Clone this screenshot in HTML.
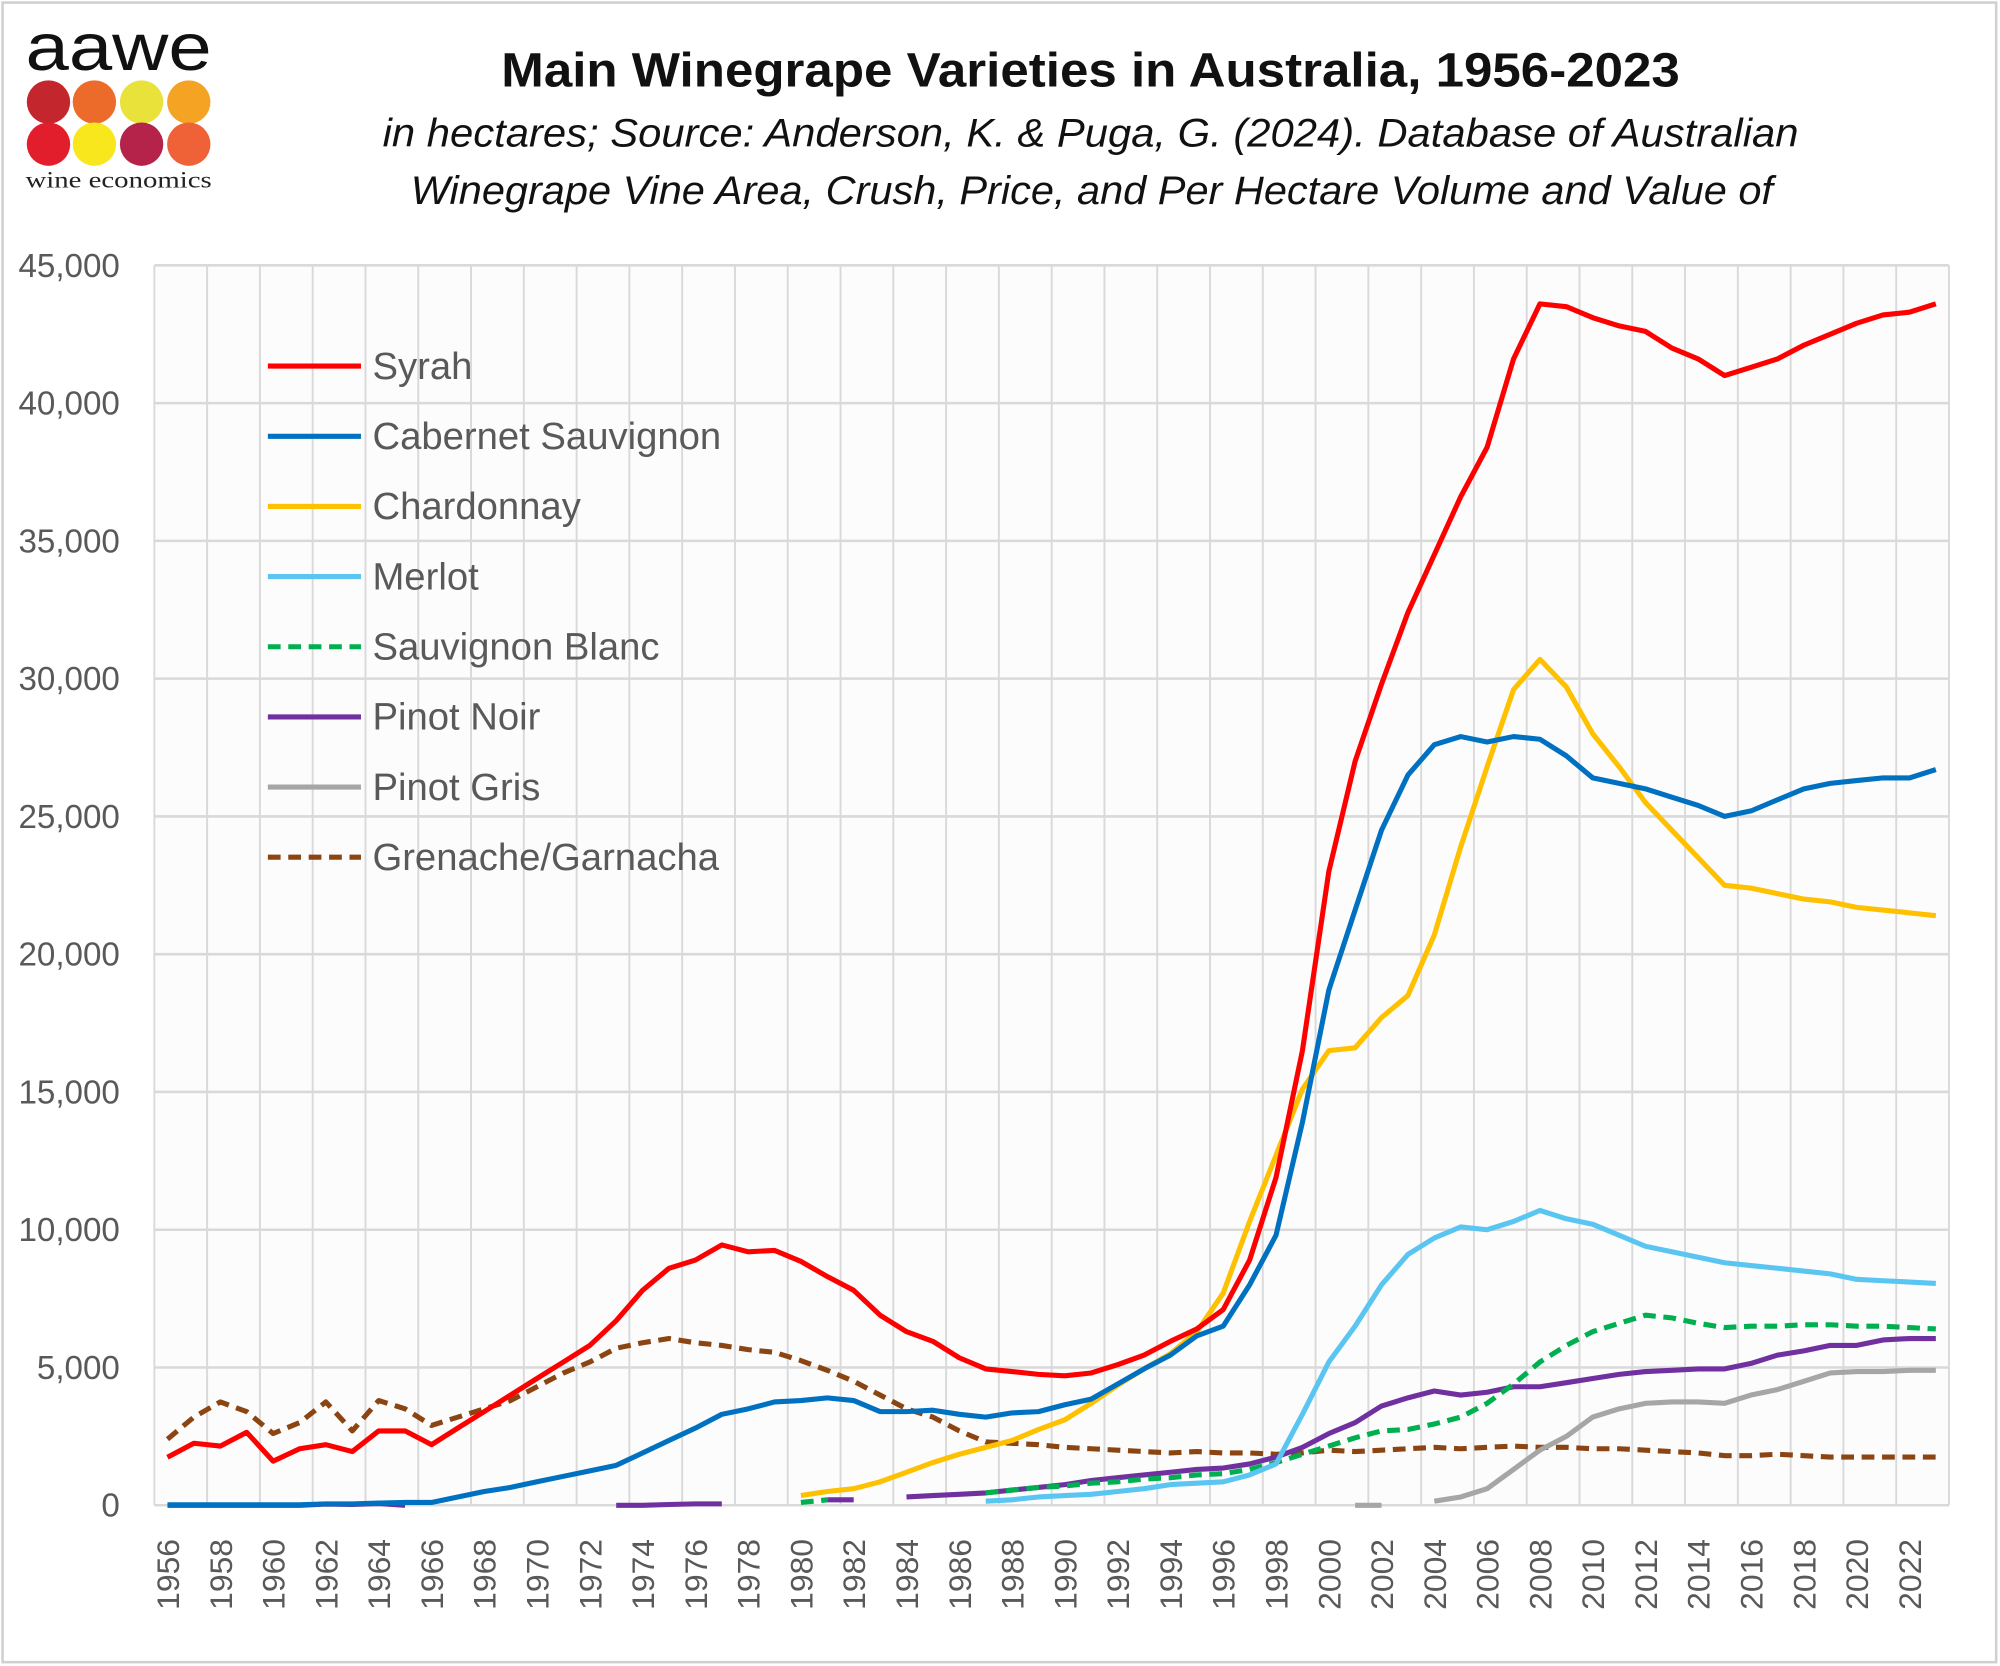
<!DOCTYPE html>
<html><head><meta charset="utf-8"><style>
html,body{margin:0;padding:0;background:#fff;}
svg{display:block;}
text{font-family:"Liberation Sans",sans-serif;}
</style></head><body>
<svg id="s" width="2000" height="1666" viewBox="0 0 1568 1306" preserveAspectRatio="none" xmlns="http://www.w3.org/2000/svg">
<rect x="2" y="2" width="1563" height="1301" fill="#fff" stroke="#d0d0d0" stroke-width="2"/>
<text x="20" y="55" font-size="52" fill="#111" textLength="146" lengthAdjust="spacingAndGlyphs">aawe</text>
<g>
<circle cx="38" cy="80" r="17" fill="#c4262e"/><circle cx="74" cy="80" r="17" fill="#ec6a2a"/><circle cx="111" cy="80" r="17" fill="#e8e23a"/><circle cx="148" cy="80" r="17" fill="#f4a323"/>
<circle cx="38" cy="113" r="17" fill="#e31e2c"/><circle cx="74" cy="113" r="17" fill="#f8e71c"/><circle cx="111" cy="113" r="17" fill="#b5234a"/><circle cx="148" cy="113" r="17" fill="#ef6136"/>
</g>
<text x="20" y="147" font-size="18" fill="#222" style="font-family:'Liberation Serif',serif" textLength="146" lengthAdjust="spacingAndGlyphs">wine economics</text>
<text x="393" y="68" font-size="38" font-weight="bold" fill="#111" textLength="924" lengthAdjust="spacingAndGlyphs">Main Winegrape Varieties in Australia, 1956-2023</text>
<text x="300" y="115" font-size="31" font-style="italic" fill="#111" textLength="1110" lengthAdjust="spacingAndGlyphs">in hectares;  Source: Anderson, K. &amp; Puga, G. (2024). Database of Australian</text>
<text x="322" y="160" font-size="31" font-style="italic" fill="#111" textLength="1068" lengthAdjust="spacingAndGlyphs">Winegrape Vine Area, Crush, Price, and Per Hectare Volume and Value of</text>
<g id="grid"></g>
<g id="series"></g>
<g id="legend"></g>
</svg>
<script>
var S=document.getElementById('s'),NS='http://www.w3.org/2000/svg';
function el(t,a,p,txt){var e=document.createElementNS(NS,t);for(var k in a)e.setAttribute(k,a[k]);if(txt!=null)e.textContent=txt;(p||S).appendChild(e);return e;}
var L=121,R=1528,T=208,B=1180,N=68,W=(R-L)/N;
function X(i){return L+(i+0.5)*W;}function Y(v){return B-v*(B-T)/45000;}
var g=document.getElementById('grid');
el('rect',{x:L,y:T,width:R-L,height:B-T,fill:'#fcfcfc'},g);
for(var i=0;i<=N;i+=2)el('line',{x1:L+i*W,x2:L+i*W,y1:T,y2:B,stroke:'#d9d9d9','stroke-width':1.5},g);
for(var v=0;v<=45000;v+=5000){el('line',{x1:L,x2:R,y1:Y(v),y2:Y(v),stroke:'#d9d9d9','stroke-width':2},g);
el('text',{x:94,y:Y(v)+9,'font-size':26,'text-anchor':'end',fill:'#595959'},g,v.toLocaleString('en-US'));}
for(var i=0;i<N;i+=2){var x=X(i)+9;el('text',{x:x,y:1262,'font-size':25,fill:'#595959',transform:'rotate(-90 '+x+' 1262)'},g,String(1956+i));}
function arr(start,vals){var o={};vals.forEach(function(v,k){o[start+k]=v;});return o;}
var syrah=arr(1956,[1740,2250,2150,2650,1600,2050,2200,1950,2700,2700,2200,2800,3400,4000,4600,5200,5800,6700,7800,8600,8900,9450,9200,9250,8850,8300,7800,6900,6300,5950,5350,4950,4850,4750,4700,4800,5100,5450,5950,6400,7100,8900,11900,16500,23000,27000,29800,32400,34500,36600,38400,41600,43600,43500,43100,42800,42600,42000,41600,41000,41300,41600,42100,42500,42900,43200,43300,43600]);
var cab=arr(1956,[20,20,20,20,20,20,50,50,80,100,100,300,500,650,850,1050,1250,1450,1900,2350,2800,3300,3500,3750,3800,3900,3800,3400,3400,3450,3300,3200,3350,3400,3650,3850,4400,4950,5450,6150,6500,8000,9800,13900,18700,21600,24500,26500,27600,27900,27700,27900,27800,27200,26400,26200,26000,25700,25400,25000,25200,25600,26000,26200,26300,26400,26400,26700]);
var chard=arr(1980,[350,500,600,850,1200,1550,1850,2100,2350,2750,3100,3700,4350,4950,5500,6300,7700,10300,12700,15100,16500,16600,17700,18500,20700,23900,26800,29600,30700,29700,28000,26800,25500,24500,23500,22500,22400,22200,22000,21900,21700,21600,21500,21400]);
var merlot=arr(1987,[150,200,300,350,400,500,600,750,800,850,1100,1500,3300,5200,6500,8000,9100,9700,10100,10000,10300,10700,10400,10200,9800,9400,9200,9000,8800,8700,8600,8500,8400,8200,8150,8100,8050]);
var sb=arr(1987,[450,550,650,700,800,850,950,1000,1100,1150,1300,1550,1850,2150,2450,2700,2750,2950,3200,3700,4400,5200,5800,6300,6600,6900,6800,6600,6450,6500,6500,6550,6550,6500,6500,6450,6400]);
var pn=arr(1984,[300,350,400,450,550,650,750,900,1000,1100,1200,1300,1350,1500,1750,2100,2600,3000,3600,3900,4150,4000,4100,4300,4300,4450,4600,4750,4850,4900,4950,4950,5150,5450,5600,5800,5800,6000,6050,6050]);
var pg=arr(2004,[150,300,600,1300,2000,2500,3200,3500,3700,3750,3750,3700,4000,4200,4500,4800,4850,4850,4900,4900]);
var gren=arr(1956,[2400,3200,3750,3400,2600,3000,3750,2700,3800,3500,2900,3200,3500,3800,4300,4800,5200,5700,5900,6050,5900,5800,5650,5550,5250,4900,4500,4000,3500,3200,2700,2300,2250,2200,2100,2050,2000,1950,1900,1950,1900,1900,1850,1900,2000,1950,2000,2050,2100,2050,2100,2150,2100,2100,2050,2050,2000,1950,1900,1800,1800,1850,1800,1750,1750,1750,1750,1750]);
var sg=document.getElementById('series');
function line(d,c,dash,w){var p=[];for(var y in d)p.push(X(y-1956).toFixed(1)+','+Y(d[y]).toFixed(1));
var a={points:p.join(' '),fill:'none',stroke:c,'stroke-width':w||4,'stroke-linejoin':'round'};if(dash)a['stroke-dasharray']=dash;el('polyline',a,sg);}
line(gren,'#8b4513','10,6');
line(pg,'#a6a6a6');
line(arr(2001,[0,0]),'#a6a6a6');
line(pn,'#7030a0');
line(arr(1956,[0,0,0,0,0,0,40,30,60,0]),'#7030a0');
line(arr(1973,[0,0,30,50,50]),'#7030a0');
line(arr(1981,[200,200]),'#7030a0');
line(sb,'#00b050','10,6');
line(arr(1980,[100,200]),'#00b050','10,6');
line(merlot,'#5bc5f2');
line(chard,'#ffc000');
line(cab,'#0070c0');
line(syrah,'#ff0000');
var lg=document.getElementById('legend');
var items=[['Syrah','#ff0000'],['Cabernet Sauvignon','#0070c0'],['Chardonnay','#ffc000'],['Merlot','#5bc5f2'],['Sauvignon Blanc','#00b050',1],['Pinot Noir','#7030a0'],['Pinot Gris','#a6a6a6'],['Grenache/Garnacha','#8b4513',1]];
items.forEach(function(it,k){var y=287+k*55;var a={x1:210,x2:283,y1:y,y2:y,stroke:it[1],'stroke-width':4};if(it[2])a['stroke-dasharray']='10,6';el('line',a,lg);
el('text',{x:292,y:y+10,'font-size':30,fill:'#595959'},lg,it[0]);});
</script>
</body></html>
